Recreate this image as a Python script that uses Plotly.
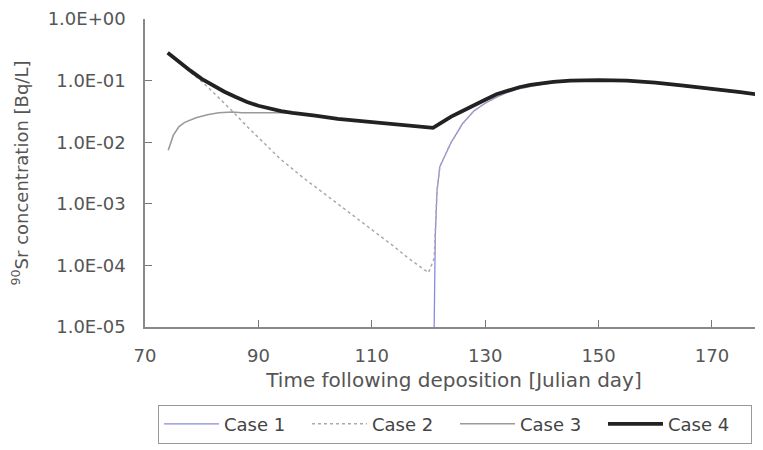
import plotly.graph_objects as go

# ---- data ----
case1_day = [121.0, 121.1, 121.2, 121.5, 122, 123, 124, 125, 126, 128, 130, 132, 134, 136, 138,
             140, 142, 145, 150, 155, 160, 165, 170, 175, 180]
case1_val = [0.00001, 0.00003, 0.0003, 0.0016, 0.004, 0.0063, 0.010, 0.014, 0.020, 0.032, 0.043,
             0.054, 0.065, 0.074, 0.081, 0.087, 0.093, 0.098, 0.100, 0.098, 0.091, 0.081, 0.072,
             0.064, 0.056]

case2_day = [74, 76, 78, 80, 82, 84, 86, 88, 90, 92, 94, 96, 98, 100, 102, 104, 106, 108, 110,
             112, 114, 116, 118, 120, 121.0, 121.2, 121.5, 122, 123, 124, 125, 126, 128, 130, 132,
             134, 136, 138, 140, 142, 145, 150, 155, 160, 165, 170, 175, 180]
case2_val = [0.275, 0.195, 0.138, 0.097, 0.065, 0.043, 0.0280, 0.018, 0.012, 0.0079, 0.0052,
             0.0037, 0.0026, 0.0019, 0.00138, 0.0010, 0.00072, 0.00052, 0.00038, 0.000275,
             0.0002, 0.000141, 0.000105, 0.000076, 0.00013, 0.0003, 0.0016, 0.004, 0.0063,
             0.010, 0.014, 0.020, 0.032, 0.043, 0.054, 0.065, 0.074, 0.081, 0.087, 0.093, 0.098,
             0.100, 0.098, 0.091, 0.081, 0.072, 0.064, 0.056]

case3_day = [74.1, 75, 76, 77, 79, 81, 83, 85.5, 87, 90, 93, 95, 96, 98, 100, 104, 108, 112, 116,
             119, 120.8, 122, 124, 126, 128, 130, 132, 134, 136, 138, 140, 142, 145, 150, 155,
             160, 165, 170, 175, 179, 180]
case3_val = [0.0074, 0.013, 0.018, 0.021, 0.025, 0.028, 0.030, 0.031, 0.030, 0.030, 0.0295,
             0.030, 0.030, 0.028, 0.027, 0.024, 0.022, 0.020, 0.0186, 0.0176, 0.0171, 0.020,
             0.026, 0.032, 0.040, 0.049, 0.060, 0.069, 0.078, 0.085, 0.091, 0.095, 0.100, 0.102,
             0.100, 0.093, 0.083, 0.074, 0.065, 0.058, 0.057]

case4_day = [74, 76, 78, 80, 82, 84, 86, 88, 90, 92, 94, 96, 98, 100, 104, 108, 112, 116, 119,
             120.8, 122, 124, 126, 128, 130, 132, 134, 136, 138, 140, 142, 145, 150, 155, 160,
             165, 170, 175, 179, 180]
case4_val = [0.282, 0.200, 0.145, 0.107, 0.083, 0.066, 0.054, 0.045, 0.039, 0.035, 0.032, 0.030,
             0.028, 0.027, 0.024, 0.022, 0.020, 0.0186, 0.0176, 0.0171, 0.020, 0.026, 0.032,
             0.040, 0.049, 0.060, 0.069, 0.078, 0.085, 0.091, 0.095, 0.100, 0.102, 0.100, 0.093,
             0.083, 0.074, 0.065, 0.058, 0.057]

x_ticks = [70, 90, 110, 130, 150, 170]
y_tickvals = [1e-5, 1e-4, 1e-3, 1e-2, 1e-1, 1]
y_ticktext = ["1.0E-05", "1.0E-04", "1.0E-03", "1.0E-02", "1.0E-01", "1.0E+00"]

FONT = "DejaVu Sans"
TXT = "#555555"
FS = 18

fig = go.Figure()
fig.add_trace(go.Scatter(x=case1_day, y=case1_val, mode="lines", name="Case 1",
                         line=dict(color="#8a8ae0", width=1.3)))
fig.add_trace(go.Scatter(x=case2_day, y=case2_val, mode="lines", name="Case 2",
                         line=dict(color="#aaaaaa", width=1.5, dash="dot")))
fig.add_trace(go.Scatter(x=case3_day, y=case3_val, mode="lines", name="Case 3",
                         line=dict(color="#9a9a9a", width=1.6)))
fig.add_trace(go.Scatter(x=case4_day, y=case4_val, mode="lines", name="Case 4",
                         line=dict(color="#222222", width=3.8)))

# the page body has an 8px default margin: margins below compensate for it
fig.update_layout(
    width=763, height=450,
    margin=dict(l=137, r=8, t=11, b=131),
    paper_bgcolor="white", plot_bgcolor="white",
    font=dict(family=FONT, size=FS, color=TXT),
    showlegend=True,
    legend=dict(orientation="h", x=0.021, y=-0.252, xanchor="left", yanchor="top",
                bordercolor="#999999", borderwidth=1, bgcolor="white",
                font=dict(family=FONT, size=FS, color="#444444"),
                itemwidth=55, entrywidth=78, entrywidthmode="pixels",
                traceorder="normal"),
)
fig.update_xaxes(range=[70, 179], tickvals=x_ticks, ticks="inside", ticklen=7,
                 tickcolor="#777777", showline=True, linecolor="#888888", linewidth=1.5,
                 showgrid=False, zeroline=False, ticklabelstandoff=12, automargin=False,
                 title=dict(text="Time following deposition [Julian day]", standoff=8,
                            font=dict(family=FONT, size=20, color=TXT)))
fig.update_yaxes(type="log", range=[-5, 0], tickvals=y_tickvals, ticktext=y_ticktext,
                 ticks="inside", ticklen=7, tickcolor="#777777", showline=True,
                 linecolor="#888888", linewidth=1.5, showgrid=False, zeroline=False,
                 ticklabelstandoff=14, automargin=False, ticklabeloverflow="allow",
                 title=dict(text="<sup>90</sup>Sr concentration [Bq/L]", standoff=20,
                            font=dict(family=FONT, size=FS, color=TXT)))

fig.write_html("out.html")
